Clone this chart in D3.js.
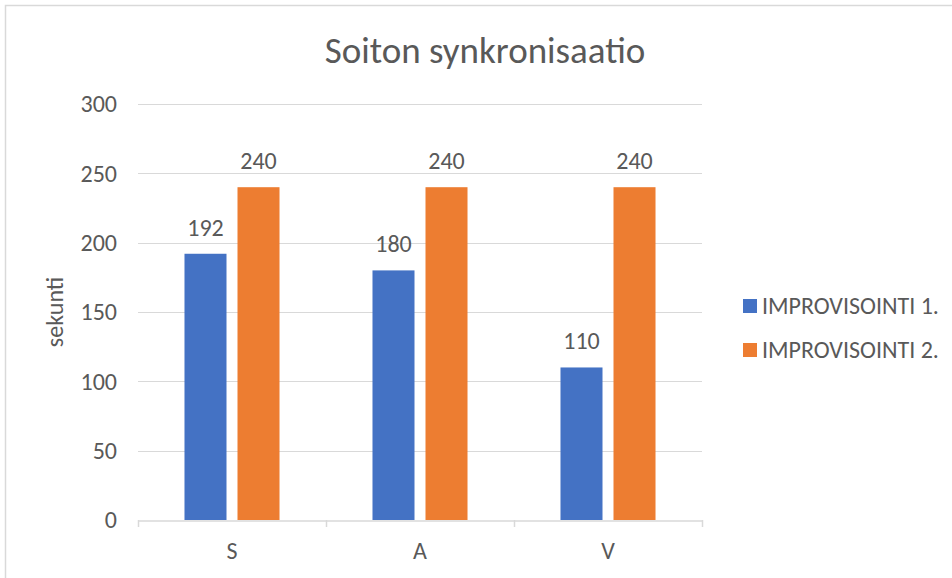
<!DOCTYPE html>
<html>
<head>
<meta charset="utf-8">
<script src="https://cdn.jsdelivr.net/npm/d3@7"></script>
<style>
  body { margin: 0; background: #fff; }
  svg text { font-family: Carlito, Calibri, Lato, "Noto Sans", sans-serif; fill: #595959; }
</style>
</head>
<body>
<div id="chart"></div>
<script>
const categories = ['S', 'A', 'V'];
const seriesNames = ['IMPROVISOINTI 1.', 'IMPROVISOINTI 2.'];
const improvisointi1 = [192, 180, 110];
const improvisointi2 = [240, 240, 240];
const yTicks = [0, 50, 100, 150, 200, 250, 300];
const colors = ['#4472C4', '#ED7D31'];

const W = 952, H = 578;
const margin = { top: 104, left: 138, right: 250, bottom: 58 };
const width = W - margin.left - margin.right;
const height = H - margin.top - margin.bottom;

const svg = d3.select('#chart').append('svg')
  .attr('width', W).attr('height', H);

// chart frame
svg.append('rect')
  .attr('x', 5.5).attr('y', 5.5)
  .attr('width', 1000).attr('height', 1000)
  .attr('fill', 'none').attr('stroke', '#D9D9D9').attr('stroke-width', 1.5);

svg.append('text')
  .attr('x', 485).attr('y', 63)
  .attr('text-anchor', 'middle')
  .style('font-size', '37px')
  .text('Soiton synkronisaatio');

const g = svg.append('g')
  .attr('transform', 'translate(' + margin.left + ',' + margin.top + ')');

const x = d3.scaleBand().domain(categories).range([0, width]).padding(0);
const xs = d3.scaleBand().domain(seriesNames).range([0, x.bandwidth()])
  .paddingInner(0.2075).paddingOuter(0.877);
const y = d3.scaleLinear().domain([0, 300]).range([height, 0]);

// gridlines
g.selectAll('.grid').data(yTicks.filter(d => d > 0)).enter()
  .append('line')
  .attr('x1', 0).attr('x2', width)
  .attr('y1', d => Math.round(y(d)) + 0.5).attr('y2', d => Math.round(y(d)) + 0.5)
  .attr('stroke', '#D9D9D9').attr('stroke-width', 1);

// y labels
g.selectAll('.ylab').data(yTicks).enter()
  .append('text')
  .attr('x', -21).attr('y', d => y(d))
  .attr('dy', '0.35em')
  .attr('text-anchor', 'end')
  .style('font-size', '24px')
  .text(d => d);

const series = [improvisointi1, improvisointi2];
const data = [];
categories.forEach((c, i) => {
  series.forEach((s, j) => data.push({ cat: c, name: seriesNames[j], value: s[i], color: colors[j] }));
});

g.selectAll('.bar').data(data).enter()
  .append('rect')
  .attr('x', d => x(d.cat) + xs(d.name))
  .attr('width', xs.bandwidth())
  .attr('y', d => y(d.value))
  .attr('height', d => height - y(d.value))
  .attr('fill', d => d.color);

g.selectAll('.lab').data(data).enter()
  .append('text')
  .attr('x', d => x(d.cat) + xs(d.name) + xs.bandwidth() / 2)
  .attr('y', d => y(d.value) - 18)
  .attr('text-anchor', 'middle')
  .style('font-size', '24px')
  .text(d => d.value);

// x axis
const xAxis = g.append('g')
  .attr('transform', 'translate(0,' + (height + 0.5) + ')')
  .call(d3.axisBottom(x).tickSize(0).tickPadding(21).tickSizeOuter(0));
xAxis.select('.domain').attr('stroke', '#D9D9D9').attr('stroke-width', 1.5);
xAxis.selectAll('text').style('font-size', '24px').attr('fill', '#595959');
g.selectAll('.xtick').data(d3.range(categories.length + 1)).enter()
  .append('line')
  .attr('x1', d => Math.round(d * x.step()) + 0.5)
  .attr('x2', d => Math.round(d * x.step()) + 0.5)
  .attr('y1', height).attr('y2', height + 7)
  .attr('stroke', '#D9D9D9').attr('stroke-width', 1.5);

// y axis title
svg.append('text')
  .attr('transform', 'translate(63,' + (margin.top + height / 2) + ') rotate(-90)')
  .attr('text-anchor', 'middle')
  .style('font-size', '24px')
  .text('sekunti');

// legend
const legend = svg.append('g').attr('transform', 'translate(743,306)');
seriesNames.forEach((n, i) => {
  const row = legend.append('g').attr('transform', 'translate(0,' + i * 44 + ')');
  row.append('rect').attr('x', 0).attr('y', -7).attr('width', 14).attr('height', 14).attr('fill', colors[i]);
  row.append('text').attr('x', 19).attr('y', 0).attr('dy', '0.35em')
    .style('font-size', '24px').text(n);
});
</script>
</body>
</html>
